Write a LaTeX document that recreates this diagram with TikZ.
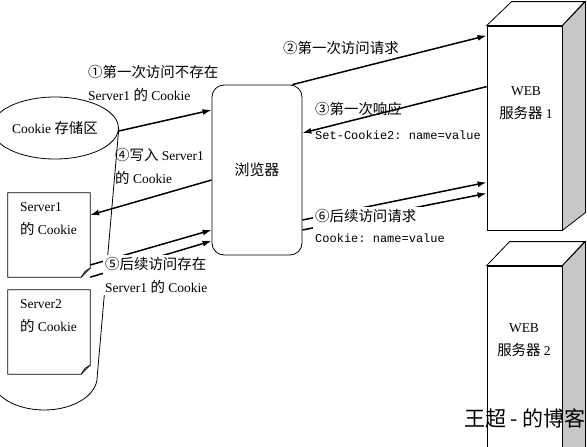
\documentclass[tikz,border=0pt]{standalone}
\usepackage{fontspec}
\setmainfont{Liberation Serif}
\setmonofont{Liberation Mono}
\newfontfamily\cjk[Scale=1.07]{Noto Sans CJK SC}
\newfontfamily\cjkmark{Noto Sans CJK SC}
\newcommand{\zh}[1]{{\cjk #1}}
\usetikzlibrary{arrows.meta,shapes.geometric}

\begin{document}
\begin{tikzpicture}[x=1pt,y=-1pt,
        txt/.style={align=left,inner sep=2pt,font=\fontsize{13.5}{23}\selectfont},
        mono/.style={inner sep=1pt,font=\ttfamily\fontsize{12}{14}\selectfont},
        arr/.style={line width=1.5pt,-{Latex[length=9pt,width=6pt]}},
        box/.style={line width=0.8pt}]
        \useasboundingbox (0,0) rectangle (587,447);

        % cookie store (cylinder)
        \node[draw,box,ellipse,minimum width=106,minimum height=62,inner sep=0,txt] (store) at (55,128) {Cookie \zh{存储区}};
        \draw[box] (store.west) -- ++(0,249) arc[start angle=180,end angle=0,x radius=53,y radius=33] -- (store.east);

        % cookie files
        \node[minimum width=82,minimum height=84,inner sep=0] (doc1) at (49,235) {};
        \draw[box] (doc1.north west) -- (doc1.north east) -- ([yshift=9]doc1.south east) -- ([xshift=-9]doc1.south east) -- (doc1.south west) -- cycle;
        \draw[box] ([yshift=9]doc1.south east) -- ([xshift=-5,yshift=6]doc1.south east) -- ([xshift=-9]doc1.south east);
        \node[txt,anchor=north west] (doc1txt) at ([xshift=10,yshift=-8]doc1.north west) {Server1\\\zh{的} Cookie};

        \node[minimum width=82,minimum height=84,inner sep=0] (doc2) at (49,332) {};
        \draw[box] (doc2.north west) -- (doc2.north east) -- ([yshift=9]doc2.south east) -- ([xshift=-9]doc2.south east) -- (doc2.south west) -- cycle;
        \draw[box] ([yshift=9]doc2.south east) -- ([xshift=-5,yshift=6]doc2.south east) -- ([xshift=-9]doc2.south east);
        \node[txt,anchor=north west] (doc2txt) at ([xshift=10,yshift=-8]doc2.north west) {Server2\\\zh{的} Cookie};

        % browser
        \node[draw,box,rounded corners=12pt,minimum width=90,minimum height=170,font=\cjk\fontsize{14}{16}\selectfont] (browser) at (257,170) {浏览器};

        % web servers
        \node[draw,box,fill=white,minimum width=75,minimum height=204] (web1) at (524.5,128) {};
        \draw[box,fill=white] (web1.north west) -- ++(25,-24) -- ++(73,0) -- (web1.north east) -- cycle;
        \draw[box,fill=black!22] (web1.north east) -- ++(23,-24) -- ++(0,211) -- (web1.south east) -- cycle;
        \node[txt,align=center] (web1txt) at (526,103) {WEB\\\zh{服务器} 1};

        \node[draw,box,fill=white,minimum width=75,minimum height=186] (web2) at (524.5,359) {};
        \draw[box,fill=white] (web2.north west) -- ++(23,-24) -- ++(75,0) -- (web2.north east) -- cycle;
        \draw[box,fill=black!22] (web2.north east) -- ++(23,-24) -- ++(0,210) -- (web2.south east) -- cycle;
        \node[txt,align=center] (web2txt) at (524,340) {WEB\\\zh{服务器} 2};

        % connectors
        \draw[arr] ([yshift=-3]store.east) -- ([yshift=60]browser.west);
        \draw[arr] ([yshift=-10]browser.west) -- ([yshift=20]doc1.east);
        \draw[arr] ([xshift=-10]browser.north east) -- ([yshift=-10]web1.north west);
        \draw[arr] ([yshift=-61]web1.north west) -- ([yshift=37]browser.east);
        \draw[arr] ([yshift=-30]doc1.east) -- ([yshift=-60]browser.west);
        \draw[arr] (doc1.south east) -- ([yshift=-71]browser.west);
        \draw[arr] ([yshift=-50]browser.east) -- ([yshift=48]web1.south west);
        \draw[arr] ([yshift=-60]browser.east) -- ([yshift=37]web1.south west);

        % labels
        \node[txt,anchor=north west] (l1) at (86,63) {\zh{①第一次访问不存在}\\Server1 \zh{的} Cookie};
        \node[txt,anchor=west] (l2) at (281,48) {\zh{②第一次访问请求}};
        \node[txt,anchor=west] (l3) at (313,109) {\zh{③第一次响应}};
        \node[mono,anchor=west] (l3b) at (314,135) {Set-Cookie2: name=value};
        \node[txt,anchor=north west] (l4) at (113,146) {\zh{④写入} Server1\\\zh{的} Cookie};
        \node[txt,fill=white,anchor=north west] (l5) at (103,255) {\zh{⑤后续访问存在}\\Server1 \zh{的} Cookie};
        \node[txt,fill=white,anchor=north west] (l6) at (313,207) {\zh{⑥后续访问请求}\\[-2pt]\texttt{\fontsize{12}{14}\selectfont Cookie: name=value}};

        \node[anchor=east,inner sep=0,font=\cjkmark\fontsize{21}{24}\selectfont] (mark) at (586,418) {王超 - 的博客};
    \end{tikzpicture}
\end{document}
